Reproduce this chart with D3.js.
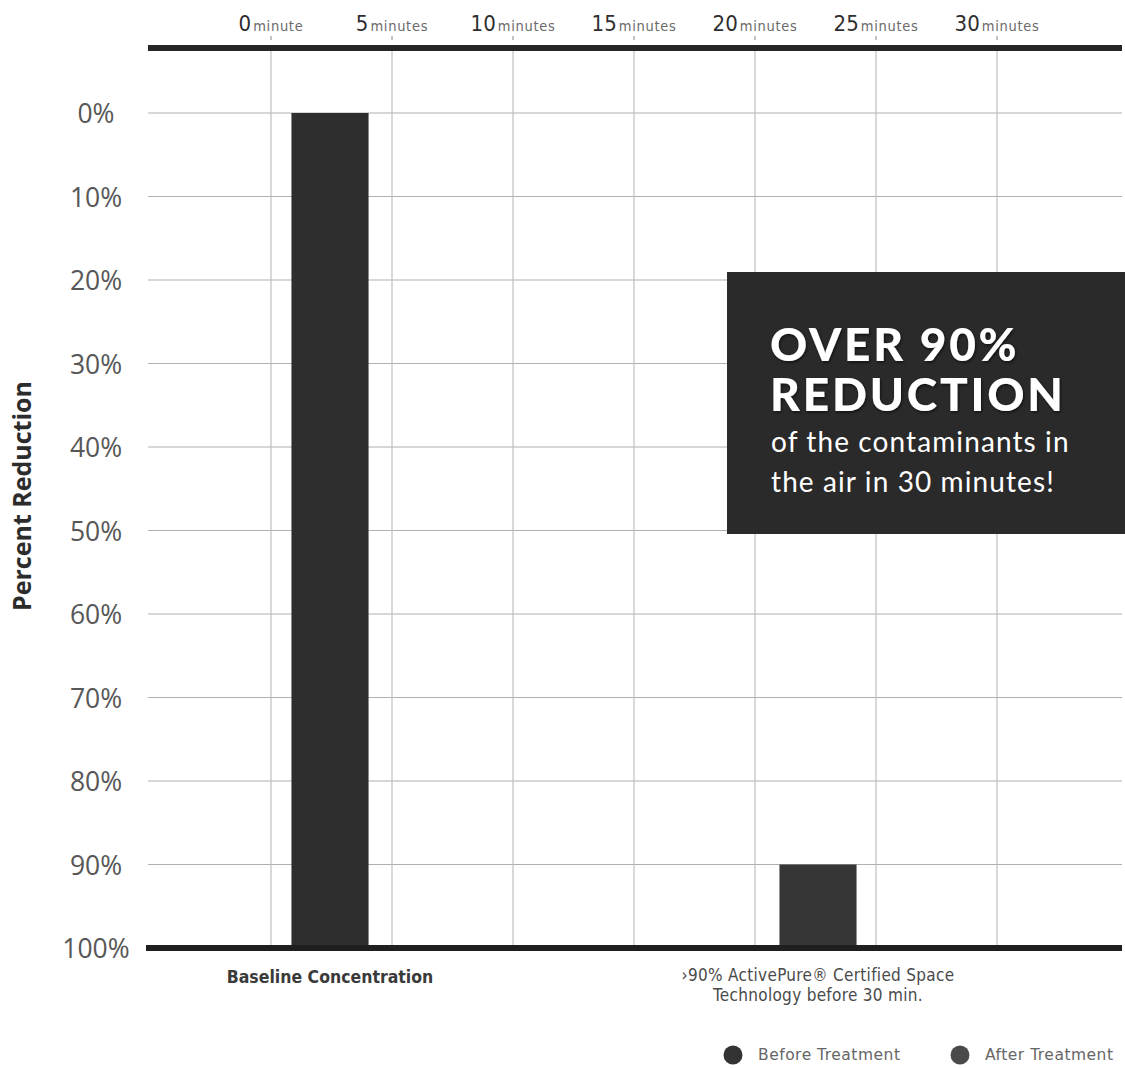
<!DOCTYPE html>
<html>
<head>
<meta charset="utf-8">
<script src="https://cdn.jsdelivr.net/npm/d3@7"></script>
<style>
  html, body { margin: 0; padding: 0; background: #fff; }
  svg { display: block; }
</style>
</head>
<body>
<svg id="chart" width="1125" height="1068"></svg>
<script>
// ---- data ----
const categories = ["Baseline Concentration", "ActivePure Certified Space Technology"];
const categoryLines = [
  ["Baseline Concentration"],
  ["\u203a90% ActivePure\u00ae Certified Space", "Technology before 30 min."]
];
const reduction = [0, 90];               // percent reduction reached by each bar
const barColors = ["#2e2e2e", "#363636"];
const yTicks = [0, 10, 20, 30, 40, 50, 60, 70, 80, 90, 100];
const minuteTicks = [0, 5, 10, 15, 20, 25, 30];
const minuteUnits = ["minute", "minutes", "minutes", "minutes", "minutes", "minutes", "minutes"];
const legendItems = ["Before Treatment", "After Treatment"];
const legendColors = ["#333333", "#4a4a4a"];

// ---- layout ----
const plotLeft = 148, plotRight = 1122, plotTop = 48, plotBottom = 948;

const svg = d3.select("#chart");

const y = d3.scaleLinear().domain([0, 100]).range([113, plotBottom]);
const xMin = d3.scaleLinear().domain([0, 30]).range([271, 997]);
const xCat = d3.scaleBand().domain(categories).range([86, 1062]);
const barW = xCat.bandwidth() * 0.158;

const defs = svg.append("defs");
const shadow = defs.append("filter").attr("id", "txtShadow")
  .attr("x", "-10%").attr("y", "-10%").attr("width", "120%").attr("height", "130%");
shadow.append("feDropShadow").attr("dx", 1).attr("dy", 1.5).attr("stdDeviation", 1.5)
  .attr("flood-color", "#000").attr("flood-opacity", 0.6);

const condensed = "'DejaVu Sans Condensed', 'Liberation Sans Narrow', sans-serif";

// ---- grid ----
const grid = svg.append("g").attr("class", "grid");
grid.selectAll("line.h").data(yTicks.slice(0, -1)).join("line")
  .attr("x1", plotLeft).attr("x2", plotRight)
  .attr("y1", d => y(d)).attr("y2", d => y(d))
  .attr("stroke", "#b0b0b0").attr("stroke-width", 1.2);
grid.selectAll("line.v").data(minuteTicks).join("line")
  .attr("x1", d => xMin(d)).attr("x2", d => xMin(d))
  .attr("y1", plotTop).attr("y2", plotBottom)
  .attr("stroke", "#c0c0c0").attr("stroke-width", 1.2);

// ---- top minute axis ----
const topLbl = svg.append("g").selectAll("text").data(minuteTicks).join("text")
  .attr("x", d => xMin(d)).attr("y", 31)
  .attr("text-anchor", "middle")
  .attr("font-family", condensed);
topLbl.append("tspan").text(d => d).attr("font-size", 22).attr("fill", "#2e2e2e");
topLbl.append("tspan").text((d, i) => minuteUnits[i]).attr("font-size", 14.5)
  .attr("letter-spacing", 0.7).attr("fill", "#6a6a6a").attr("dx", 2);
svg.append("g").selectAll("line").data(minuteTicks).join("line")
  .attr("x1", d => xMin(d)).attr("x2", d => xMin(d)).attr("y1", 36).attr("y2", 40)
  .attr("stroke", "#888").attr("stroke-width", 1);

// top rule
svg.append("line").attr("x1", plotLeft).attr("x2", plotRight)
  .attr("y1", plotTop).attr("y2", plotTop)
  .attr("stroke", "#262626").attr("stroke-width", 6);

// ---- y axis (labels centred in the left margin) ----
const yAxis = svg.append("g").attr("transform", `translate(${plotLeft},0)`)
  .call(d3.axisLeft(y).tickValues(yTicks).tickSize(0).tickFormat(d => d + "%"));
yAxis.select(".domain").remove();
yAxis.selectAll("text")
  .attr("x", 96 - plotLeft)
  .attr("text-anchor", "middle")
  .attr("font-family", "'Open Sans', sans-serif").attr("font-size", 26.5)
  .attr("fill", "#575757").attr("dy", "0.36em");

svg.append("text")
  .attr("transform", "translate(31,496) rotate(-90)")
  .attr("text-anchor", "middle")
  .attr("font-family", "'Open Sans', sans-serif").attr("font-weight", 700)
  .attr("font-size", 25).attr("fill", "#2c2c2c")
  .text("Percent Reduction");

// ---- bars ----
svg.append("g").selectAll("rect").data(reduction).join("rect")
  .attr("x", (d, i) => xCat(categories[i]) + xCat.bandwidth() / 2 - barW / 2)
  .attr("width", barW)
  .attr("y", d => y(d))
  .attr("height", d => y(100) - y(d))
  .attr("fill", (d, i) => barColors[i]);

// baseline rule
svg.append("line").attr("x1", plotLeft - 2).attr("x2", plotRight)
  .attr("y1", plotBottom).attr("y2", plotBottom)
  .attr("stroke", "#1f1f1f").attr("stroke-width", 6);

// ---- category labels ----
const catG = svg.append("g").selectAll("text").data(categoryLines).join("text")
  .attr("text-anchor", "middle")
  .attr("font-family", condensed);
catG.each(function(lines, i) {
  const multi = lines.length > 1;
  const t = d3.select(this)
    .attr("fill", multi ? "#4a4a4a" : "#3a3a3a")
    .attr("font-weight", multi ? 400 : 700);
  lines.forEach((ln, j) => {
    t.append("tspan")
      .attr("x", xCat(categories[i]) + xCat.bandwidth() / 2)
      .attr("y", 983 + j * 20 - (multi ? 2 : 0))
      .attr("font-size", multi ? 17 : 17.5)
      .attr("letter-spacing", multi ? 0.3 : 0)
      .text(ln);
  });
});

// ---- callout box ----
const box = svg.append("g");
box.append("rect").attr("x", 727).attr("y", 272).attr("width", 398).attr("height", 262)
  .attr("fill", "#2a2a2a");
const head = box.append("text").attr("font-family", "Lato, 'Open Sans', sans-serif")
  .attr("font-weight", 900).attr("fill", "#fff").attr("font-size", 46)
  .attr("letter-spacing", 2.8).attr("filter", "url(#txtShadow)");
head.append("tspan").attr("x", 770).attr("y", 361).text("OVER 90%");
head.append("tspan").attr("x", 770).attr("y", 411).text("REDUCTION");
const sub = box.append("text").attr("font-family", "Lato, 'Open Sans', sans-serif")
  .attr("font-weight", 400).attr("fill", "#fff").attr("font-size", 28)
  .attr("letter-spacing", 1.1);
sub.append("tspan").attr("x", 771).attr("y", 452).text("of the contaminants in");
sub.append("tspan").attr("x", 771).attr("y", 492).text("the air in 30 minutes!");

// ---- legend ----
const legX = [733, 960];
const leg = svg.append("g").selectAll("g").data(legendItems).join("g")
  .attr("transform", (d, i) => `translate(${legX[i]},1055)`);
leg.append("circle").attr("r", 9.5).attr("fill", (d, i) => legendColors[i]);
leg.append("text").attr("x", 25).attr("dy", "0.35em")
  .attr("font-family", "'DejaVu Sans', sans-serif")
  .attr("font-size", 15.5).attr("letter-spacing", 0.5)
  .attr("fill", "#666").text(d => d);
</script>
</body>
</html>
